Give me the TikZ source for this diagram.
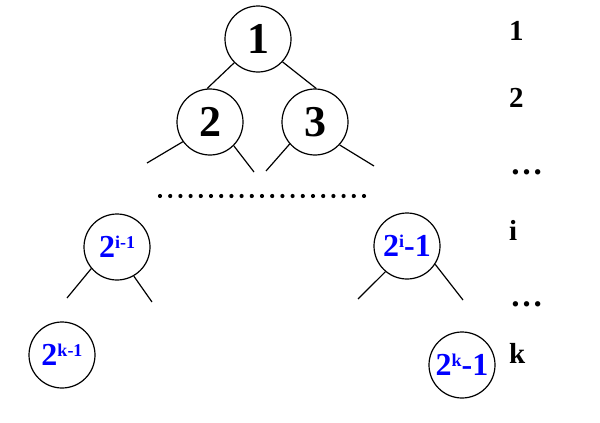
\documentclass[tikz,border=0pt]{standalone}
\usepackage{fontspec}
\setmainfont{Liberation Serif}
\definecolor{nblue}{RGB}{0,0,255}
\begin{document}
\begin{tikzpicture}[x=1pt,y=-1pt,
  nd/.style={circle,draw,line width=1.2pt,minimum size=66pt,inner sep=0pt},
  big/.style={font=\bfseries\fontsize{44}{44}\selectfont},
  lvl/.style={font=\bfseries\fontsize{29}{29}\selectfont,anchor=base west,inner sep=0pt},
  ell/.style={lvl,font=\bfseries\fontsize{33}{33}\selectfont},
  edge/.style={line width=1.2pt}]
\useasboundingbox (0,0) rectangle (600,423);
\newcommand{\pw}[2]{\textcolor{nblue}{\fontsize{32}{32}\selectfont\bfseries 2\raisebox{9pt}{\fontsize{18}{18}\selectfont #1}#2}}
\node[nd,big] (n1) at (258,39) {1};
\node[nd,big] (n2) at (210,122) {2};
\node[nd,big] (n3) at (315,122) {3};
\node[nd] (ni) at (117,247) {\pw{i-1}{}};
\node[nd] (nj) at (407,246) {\pw{i}{-1}};
\node[nd] (nk) at (62,355) {\pw{k-1}{}};
\node[nd] (nl) at (462,365) {\pw{k}{-1}};
% edges
\draw[edge] (n1.225) -- (n2.95);
\draw[edge] (n1.317) -- (n3.88);
\coordinate (a1) at (147,163);
\coordinate (a2) at (254,172);
\coordinate (a3) at (266,171);
\coordinate (a4) at (374,166);
\draw[edge] (n2.216) -- (a1);
\draw[edge] (n2.315) -- (a2);
\draw[edge] (n3.221) -- (a3);
\draw[edge] (n3.317) -- (a4);
\coordinate (b1) at (67,298);
\coordinate (b2) at (152,302);
\coordinate (b3) at (358,299);
\coordinate (b4) at (463,300);
\draw[edge] (ni.220) -- (b1);
\draw[edge] (ni.300) -- (b2);
\draw[edge] (nj.230) -- (b3);
\draw[edge] (nj.327) -- (b4);
% dotted row
\foreach \k in {0,...,20} \fill (160+10.2*\k,196) circle (2.1pt);
% level labels
\node[lvl] (l1) at (509,40) {1};
\node[lvl] (l2) at (509,107) {2};
\node[ell] (l3) at (510,174) {\dots};
\node[lvl] (l4) at (509,240) {i};
\node[ell] (l5) at (510,306) {\dots};
\node[lvl] (l6) at (509,363) {k};
\end{tikzpicture}
\end{document}
